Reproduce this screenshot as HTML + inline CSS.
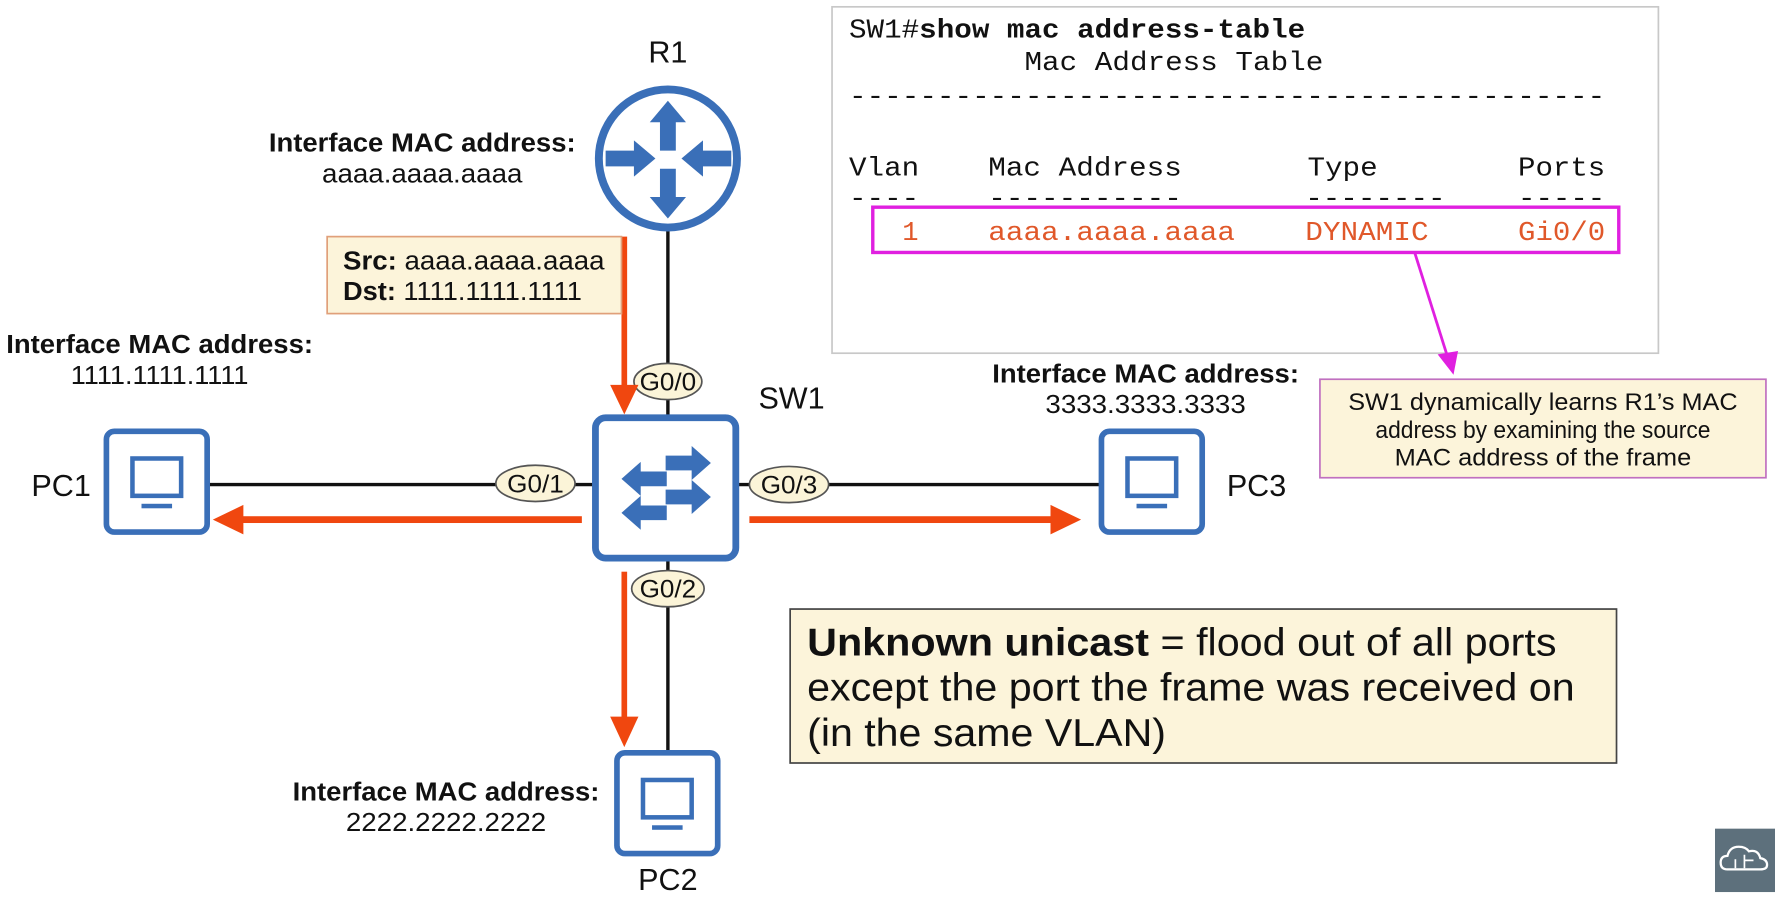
<!DOCTYPE html>
<html><head><meta charset="utf-8"><style>
html,body{margin:0;padding:0;background:#fff;}
svg{display:block;}
.s{font-family:"Liberation Sans",sans-serif;}
.m{font-family:"Liberation Mono","DejaVu Sans Mono",monospace;}
</style></head><body>
<svg width="1775" height="900" viewBox="0 0 1568 795" xmlns="http://www.w3.org/2000/svg">
<defs>
<polygon id="ra" points="-44,-7 -19,-7 -19,-16 0,0 -19,16 -19,7 -44,7" fill="#3a6fb8"/>
<polygon id="sa" points="-40,-6.5 -17,-6.5 -17,-15 0,0 -17,15 -17,6.5 -40,6.5" fill="#3a6fb8"/>
<g id="pc">
<rect x="0" y="0" width="89" height="89" rx="7" fill="#fff" stroke="#3a6fb8" stroke-width="5"/>
<rect x="23" y="24" width="43" height="33" fill="none" stroke="#3a6fb8" stroke-width="4"/>
<rect x="31" y="64" width="27" height="4" fill="#3a6fb8"/>
</g>
</defs>
<rect width="1568" height="795" fill="#fff"/>

<line x1="590" y1="204" x2="590" y2="368" stroke="#111" stroke-width="3"/>
<line x1="183" y1="428" x2="972" y2="428" stroke="#111" stroke-width="3"/>
<line x1="590" y1="494" x2="590" y2="666" stroke="#111" stroke-width="3"/>

<circle cx="590" cy="140" r="61" fill="#fff" stroke="#3a6fb8" stroke-width="7"/>
<use href="#ra" transform="translate(590,89) rotate(-90)"/>
<use href="#ra" transform="translate(590,193) rotate(90)"/>
<use href="#ra" transform="translate(579,140)"/>
<use href="#ra" transform="translate(602,140) rotate(180)"/>
<text x="590" y="55" class="s" font-size="27" text-anchor="middle" fill="#111">R1</text>

<rect x="526" y="369" width="124" height="124" rx="9" fill="#fff" stroke="#3a6fb8" stroke-width="6"/>
<use href="#sa" transform="translate(628,409)"/>
<use href="#sa" transform="translate(628,439)"/>
<use href="#sa" transform="translate(549,423) rotate(180)"/>
<use href="#sa" transform="translate(549,453) rotate(180)"/>
<text x="670" y="361" class="s" font-size="27" fill="#111">SW1</text>

<use href="#pc" transform="translate(94,381)"/>
<use href="#pc" transform="translate(973,381)"/>
<use href="#pc" transform="translate(545,665)"/>
<text x="54" y="438" class="s" font-size="27" text-anchor="middle" fill="#111">PC1</text>
<text x="1110" y="438" class="s" font-size="27" text-anchor="middle" fill="#111">PC3</text>
<text x="590" y="786" class="s" font-size="27" text-anchor="middle" fill="#111">PC2</text>

<g class="s" font-size="22" text-anchor="middle" fill="#111">
<ellipse cx="590" cy="337" rx="30" ry="16" fill="#fbf4d8" stroke="#555" stroke-width="1.5"/>
<text x="590" y="345" textLength="50" lengthAdjust="spacingAndGlyphs">G0/0</text>
<ellipse cx="473" cy="427" rx="35" ry="16" fill="#fbf4d8" stroke="#555" stroke-width="1.5"/>
<text x="473" y="435" textLength="50" lengthAdjust="spacingAndGlyphs">G0/1</text>
<ellipse cx="697" cy="428" rx="35" ry="16" fill="#fbf4d8" stroke="#555" stroke-width="1.5"/>
<text x="697" y="436" textLength="50" lengthAdjust="spacingAndGlyphs">G0/3</text>
<ellipse cx="590" cy="520" rx="32" ry="16" fill="#fbf4d8" stroke="#555" stroke-width="1.5"/>
<text x="590" y="528" textLength="50" lengthAdjust="spacingAndGlyphs">G0/2</text>
</g>

<g fill="#f0470f" stroke="none">
<rect x="549" y="209" width="5" height="135"/>
<polygon points="539,340 564,340 551.5,366"/>
<rect x="213" y="456" width="301" height="6"/>
<polygon points="215,446 215,472 188,459"/>
<rect x="662" y="456" width="270" height="6"/>
<polygon points="928,446 928,472 955,459"/>
<rect x="549" y="505" width="5" height="132"/>
<polygon points="539,633 564,633 551.5,660"/>
</g>

<rect x="289" y="209" width="260" height="68" fill="#fcf4da" stroke="#e0a07a" stroke-width="1.5"/>
<text x="303" y="238" class="s" font-size="23" fill="#111" textLength="231" lengthAdjust="spacingAndGlyphs"><tspan font-weight="bold">Src:</tspan> aaaa.aaaa.aaaa</text>
<text x="303" y="265" class="s" font-size="23" fill="#111" textLength="211" lengthAdjust="spacingAndGlyphs"><tspan font-weight="bold">Dst:</tspan> 1111.1111.1111</text>

<g class="s" font-size="23" text-anchor="middle" fill="#111">
<text x="373" y="134" font-weight="bold" textLength="271" lengthAdjust="spacingAndGlyphs">Interface MAC address:</text>
<text x="373" y="161" textLength="177" lengthAdjust="spacingAndGlyphs">aaaa.aaaa.aaaa</text>
<text x="141" y="312" font-weight="bold" textLength="271" lengthAdjust="spacingAndGlyphs">Interface MAC address:</text>
<text x="141" y="339" textLength="157" lengthAdjust="spacingAndGlyphs">1111.1111.1111</text>
<text x="1012" y="338" font-weight="bold" textLength="271" lengthAdjust="spacingAndGlyphs">Interface MAC address:</text>
<text x="1012" y="365" textLength="177" lengthAdjust="spacingAndGlyphs">3333.3333.3333</text>
<text x="394" y="707" font-weight="bold" textLength="271" lengthAdjust="spacingAndGlyphs">Interface MAC address:</text>
<text x="394" y="734" textLength="177" lengthAdjust="spacingAndGlyphs">2222.2222.2222</text>
</g>

<rect x="735" y="6" width="730" height="306" fill="#fff" stroke="#c8c8c8" stroke-width="1.5"/>
<g class="m" font-size="24" fill="#111">
<text x="750" y="33" textLength="403" lengthAdjust="spacingAndGlyphs">SW1#<tspan font-weight="bold">show mac address-table</tspan></text>
<text x="905" y="62" textLength="264" lengthAdjust="spacingAndGlyphs">Mac Address Table</text>
<text x="750" y="92" textLength="668" lengthAdjust="spacingAndGlyphs">-------------------------------------------</text>
<text x="750" y="155" textLength="62" lengthAdjust="spacingAndGlyphs">Vlan</text>
<text x="873" y="155" textLength="171" lengthAdjust="spacingAndGlyphs">Mac Address</text>
<text x="1155" y="155" textLength="62" lengthAdjust="spacingAndGlyphs">Type</text>
<text x="1341" y="155" textLength="77" lengthAdjust="spacingAndGlyphs">Ports</text>
<text x="750" y="182" textLength="62" lengthAdjust="spacingAndGlyphs">----</text>
<text x="873" y="182" textLength="171" lengthAdjust="spacingAndGlyphs">-----------</text>
<text x="1153" y="182" textLength="124" lengthAdjust="spacingAndGlyphs">--------</text>
<text x="1341" y="182" textLength="77" lengthAdjust="spacingAndGlyphs">-----</text>
</g>
<g class="m" font-size="24" fill="#e0582a">
<text x="797" y="212">1</text>
<text x="873" y="212" textLength="218" lengthAdjust="spacingAndGlyphs">aaaa.aaaa.aaaa</text>
<text x="1153" y="212" textLength="109" lengthAdjust="spacingAndGlyphs">DYNAMIC</text>
<text x="1341" y="212" textLength="77" lengthAdjust="spacingAndGlyphs">Gi0/0</text>
</g>
<rect x="771" y="183" width="659" height="40" fill="none" stroke="#e020e0" stroke-width="3"/>
<line x1="1250" y1="224" x2="1279" y2="316" stroke="#e020e0" stroke-width="2.5"/>
<polygon points="1270,313 1288,310 1284,331" fill="#e020e0"/>

<rect x="1166" y="335" width="394" height="87" fill="#fcf4da" stroke="#c070c0" stroke-width="1.5"/>
<g class="s" font-size="21" text-anchor="middle" fill="#111">
<text x="1363" y="362" textLength="344" lengthAdjust="spacingAndGlyphs">SW1 dynamically learns R1’s MAC</text>
<text x="1363" y="387" textLength="296" lengthAdjust="spacingAndGlyphs">address by examining the source</text>
<text x="1363" y="411" textLength="262" lengthAdjust="spacingAndGlyphs">MAC address of the frame</text>
</g>

<rect x="698" y="538" width="730" height="136" fill="#fcf4da" stroke="#444" stroke-width="1.5"/>
<g class="s" font-size="34" fill="#111">
<text x="713" y="579" textLength="662" lengthAdjust="spacingAndGlyphs"><tspan font-weight="bold">Unknown unicast</tspan> = flood out of all ports</text>
<text x="713" y="619" textLength="678" lengthAdjust="spacingAndGlyphs">except the port the frame was received on</text>
<text x="713" y="659" textLength="317" lengthAdjust="spacingAndGlyphs">(in the same VLAN)</text>
</g>

<rect x="1515" y="732" width="53" height="56" fill="#5d707c"/>
<path d="M1526,768 q-6,0 -6,-6 q0,-6 6,-6 q2,-8 10,-8 q6,0 9,4 q8,-2 10,6 q6,1 6,6 q0,4 -6,4 z" fill="none" stroke="#fff" stroke-width="2"/>
<path d="M1533,767 v-8 M1541,767 v-12 M1541,760 h8" stroke="#fff" stroke-width="1.5" fill="none"/>
</svg>
</body></html>
